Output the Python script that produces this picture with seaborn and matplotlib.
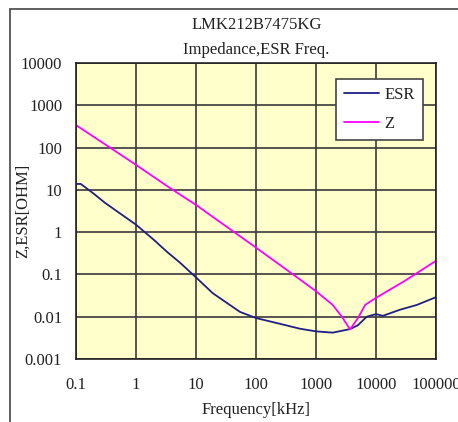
import matplotlib
matplotlib.use("Agg")
import matplotlib.pyplot as plt
from matplotlib.patches import Rectangle
import seaborn as sns
import pandas as pd

# values (frequency in kHz, ohms)
esr_freq = [0.1, 0.12, 0.2, 0.3, 0.5, 1, 2, 3.3, 5.4, 10, 19, 54, 100, 250,
            540, 1000, 1900, 3700, 5000, 7000, 10000, 13000, 25000, 48000,
            100000]
esr_val = [13.8, 13.8, 8.0, 5.0, 3.0, 1.5, 0.65, 0.34, 0.19, 0.085, 0.036,
           0.013, 0.0093, 0.0068, 0.0052, 0.0045, 0.0042, 0.0051, 0.0063,
           0.010, 0.0115, 0.0105, 0.0146, 0.019, 0.029]

z_freq = [0.1, 1, 3.7, 10, 100, 540, 1000, 1900, 2700, 3700, 5000, 6600,
          10000, 30000, 100000]
z_val = [340, 39, 11, 4.4, 0.43, 0.076, 0.040, 0.019, 0.010, 0.0050, 0.0093,
         0.019, 0.028, 0.07, 0.21]

x_ticks = [0.1, 1, 10, 100, 1000, 10000, 100000]
x_labels = ["0.1", "1", "10", "100", "1000", "10000", "100000"]
y_ticks = [0.001, 0.01, 0.1, 1, 10, 100, 1000, 10000]
y_labels = ["0.001", "0.01", "0.1", "1", "10", "100", "1000", "10000"]

df = pd.concat([
    pd.DataFrame({"freq": esr_freq, "value": esr_val, "series": "ESR"}),
    pd.DataFrame({"freq": z_freq, "value": z_val, "series": "Z"}),
])

sns.set_theme(style="white")
plt.rcParams["font.family"] = ["Liberation Serif", "DejaVu Serif"]

fig = plt.figure(figsize=(4.58, 4.22), dpi=100)
ax = fig.add_axes([0.166, 0.1493, 0.786, 0.7014])
ax.set_facecolor("#FFFFCC")

sns.lineplot(data=df, x="freq", y="value", hue="series",
             palette={"ESR": "#1f1f85", "Z": "#FF00FF"}, linewidth=1.3, ax=ax)

ax.set_xscale("log")
ax.set_yscale("log")
ax.set_xlim(0.1, 100000)
ax.set_ylim(0.001, 10000)
ax.set_xticks(x_ticks)
ax.set_xticklabels(x_labels)
ax.set_yticks(y_ticks)
ax.set_yticklabels(y_labels)
ax.minorticks_off()
ax.tick_params(axis="both", length=0, labelsize=12, colors="#222222")
ax.tick_params(axis="x", pad=13)
ax.tick_params(axis="y", pad=10)
ax.grid(True, color="#3a3a3a", linewidth=1.2)
for s in ax.spines.values():
    s.set_color("#222222")
    s.set_linewidth(1.2)

ax.set_xlabel("Frequency[kHz]", fontsize=12, color="#222222")
ax.set_ylabel("Z,ESR[OHM]", fontsize=12, color="#222222")
ax.xaxis.set_label_coords(0.5, -0.145)
ax.yaxis.set_label_coords(-0.125, 0.5)

fig.text(0.56, 1 - 25 / 422, "LMK212B7475KG", ha="center", va="center",
         fontsize=12, color="#222222")
fig.text(0.56, 1 - 50 / 422, "Impedance,ESR Freq.", ha="center", va="center",
         fontsize=12, color="#222222")

leg = ax.legend(loc="upper right", bbox_to_anchor=(0.964, 0.946),
                borderaxespad=0, fontsize=12, handlelength=2.1,
                labelspacing=0.75, fancybox=False, framealpha=1,
                edgecolor="#444444", handletextpad=0.3, borderpad=0.5)
leg.get_frame().set_linewidth(1.2)
for t in leg.get_texts():
    t.set_color("#222222")

# outer chart border (runs off the right and bottom edges)
fig.add_artist(Rectangle((10 / 458, -0.05), 1.2, 1 - 9 / 422 + 0.05,
                         transform=fig.transFigure, fill=False,
                         edgecolor="#444444", linewidth=1.2, clip_on=False))

fig.savefig("out.png", dpi=100)
